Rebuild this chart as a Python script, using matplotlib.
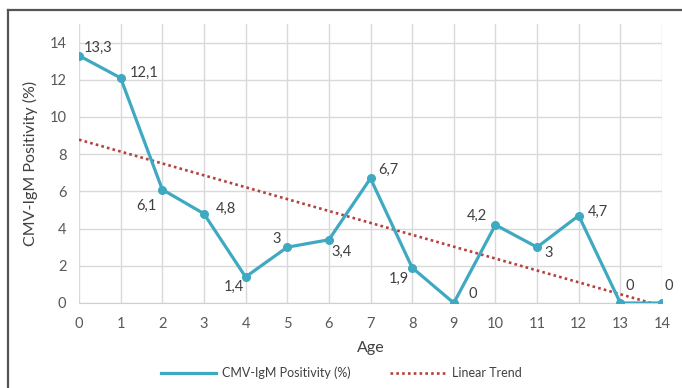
import numpy as np
import matplotlib.pyplot as plt
from matplotlib.lines import Line2D

plt.rcParams['font.family'] = ['Lato', 'DejaVu Sans']

# data
ages = list(range(15))
positivity = [13.3, 12.1, 6.1, 4.8, 1.4, 3.0, 3.4, 6.7, 1.9, 0.0, 4.2, 3.0, 4.7, 0.0, 0.0]
value_labels = ['13,3', '12,1', '6,1', '4,8', '1,4', '3', '3,4', '6,7', '1,9', '0', '4,2', '3', '4,7', '0', '0']
yticks = [0, 2, 4, 6, 8, 10, 12, 14]

# label offsets in pixels (style only)
label_offsets = [(19, 8), (23, 5), (-16, -16), (22, 5), (-12, -10), (-11, 8), (13, -12),
                 (18, 8), (-13, -11), (19, 9), (-18, 9), (12, -6), (19, 4), (9, 17), (7, 17)]

teal = '#3FA9C1'
trend_col = '#B5403D'
txt = '#404040'

fig = plt.figure(figsize=(6.82, 3.88), dpi=100)
ax = fig.add_axes([79 / 682, 1 - 303 / 388, (662 - 79) / 682, (303 - 24) / 388])

ax.plot(ages, positivity, color=teal, lw=2.3, marker='o', ms=5.5, zorder=3)

# linear trend fitted on the series
k, b = np.polyfit(ages, positivity, 1)
xs = np.array([ages[0], ages[-1]])
ax.plot(xs, k * xs + b, color=trend_col, lw=1.9, ls=(0, (1, 1.2)), zorder=2)

for x, y, s, (dx, dy) in zip(ages, positivity, value_labels, label_offsets):
    ax.annotate(s, (x, y), xytext=(dx, dy), textcoords='offset pixels',
                ha='center', va='center', fontsize=10.5, color=txt)

ax.set_xlim(0, 14)
ax.set_ylim(0, 15.0)
ax.set_xticks(ages)
ax.set_yticks(yticks)
ax.grid(True, color='#D9D9D9', lw=1)
ax.set_axisbelow(True)
for side in ['top', 'right', 'left']:
    ax.spines[side].set_visible(False)
ax.spines['bottom'].set_color('#D0D0D0')
ax.tick_params(length=0, labelsize=10.5, colors='#595959')
ax.tick_params(axis='x', pad=10)
ax.tick_params(axis='y', pad=9)
ax.set_xlabel('Age', fontsize=11.5, color='#404040', labelpad=7)
ax.set_ylabel('CMV-IgM Positivity (%)', fontsize=11.5, color='#404040', labelpad=8)

handles = [Line2D([], [], color=teal, lw=2.3),
           Line2D([], [], color=trend_col, lw=1.9, ls=(0, (1, 1.2)))]
fig.legend(handles, ['CMV-IgM Positivity (%)', 'Linear Trend'], loc='center',
           bbox_to_anchor=(0.5, 1 - 373 / 388), ncol=2, frameon=False,
           fontsize=9, handlelength=4.4, columnspacing=3.2, handletextpad=0.5,
           labelcolor='#404040')

# frame lines around the chart
fig.add_artist(Line2D([8 / 682, 1], [1 - 10 / 388, 1 - 10 / 388], color='#555555', lw=1.6))
fig.add_artist(Line2D([8 / 682, 8 / 682], [0, 1 - 10 / 388], color='#555555', lw=1.6))

fig.savefig('out.png', dpi=100)
